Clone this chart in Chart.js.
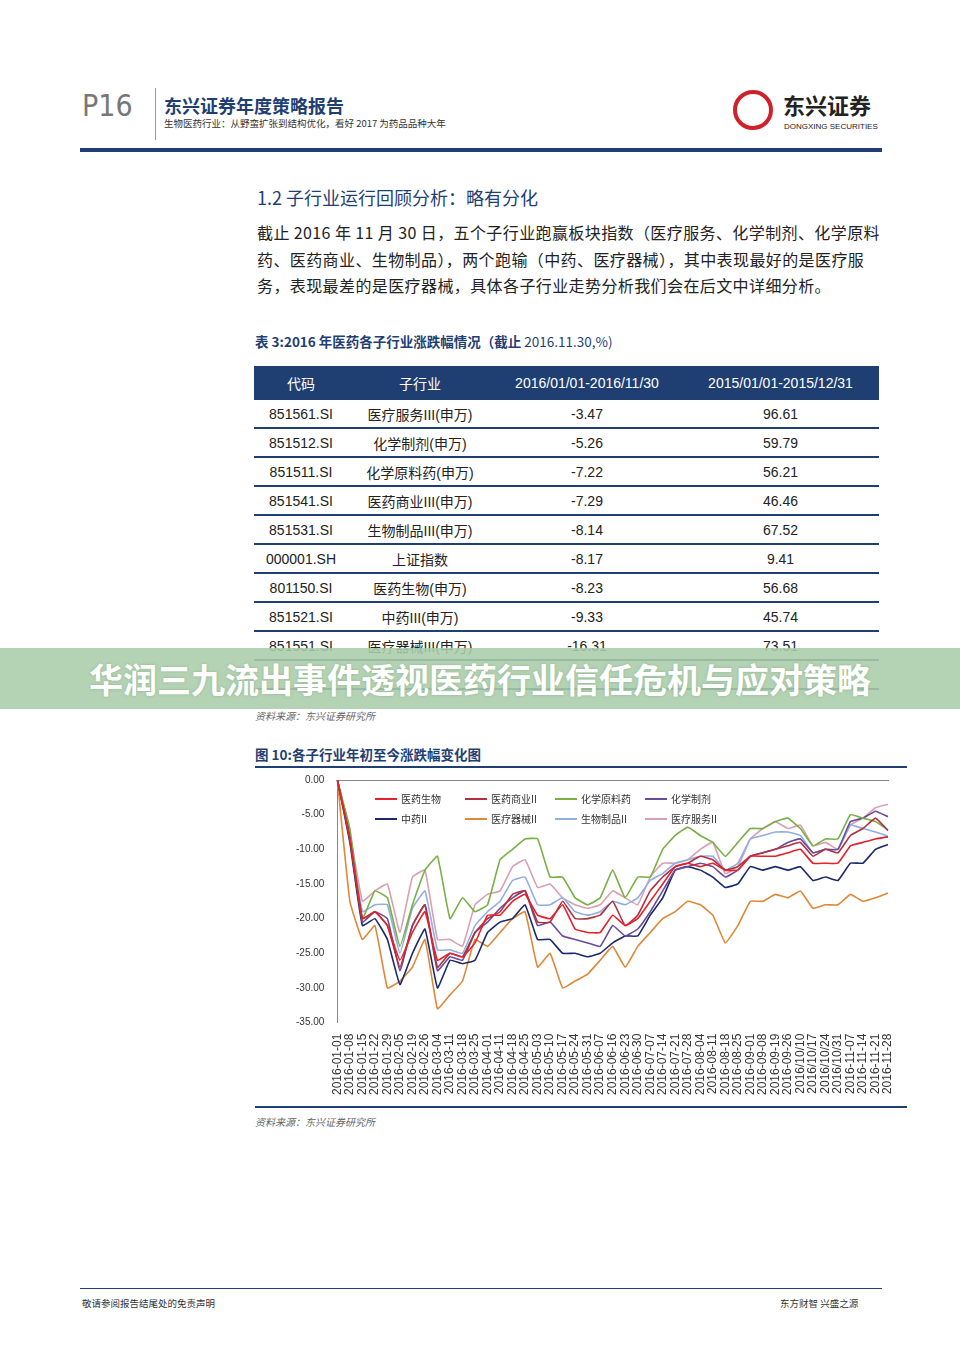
<!DOCTYPE html>
<html><head><meta charset="utf-8">
<script src="https://cdn.jsdelivr.net/npm/chart.js@4/dist/chart.umd.min.js"></script>
<style>
body{margin:0;width:960px;height:1357px;position:relative;background:#fff;font-family:"Noto Sans CJK SC","Noto Sans",sans-serif;color:#222;overflow:hidden}
.a{position:absolute}
table{border-collapse:collapse;font-family:Arial,"Liberation Sans","Noto Sans CJK SC";font-size:14px}
td,th{text-align:center;padding:0;height:27px;border-bottom:2px solid #1f3f73}
th{background:#1f3f73;color:#fff;font-weight:normal;height:34px;border:none}
.lg{font-size:10px;font-family:"Noto Sans CJK SC";color:#333;display:flex;align-items:center}
.lg i{display:inline-block;width:22px;height:2px;margin-right:4px}
</style></head><body>
<div class="a" style="left:82px;top:88px;font-size:30px;color:#777;font-family:'DejaVu Sans Condensed','DejaVu Sans'">P16</div>
<div class="a" style="left:155px;top:88px;width:1px;height:52px;background:#999"></div>
<div class="a" style="left:164px;top:92px;font-size:18px;font-weight:bold;color:#1f3f73">东兴证券年度策略报告</div>
<div class="a" style="left:164px;top:116px;font-size:9.5px;color:#333">生物医药行业：从野蛮扩张到结构优化，看好 2017 为药品品种大年</div>
<div class="a" style="left:733px;top:90px;width:40px;height:40px;border-radius:50%;border:4px solid #d0202a;box-sizing:border-box"></div>
<div class="a" style="left:783px;top:90px;font-size:22px;line-height:28px;font-weight:bold;color:#222">东兴证券</div>
<div class="a" style="left:784px;top:122px;font-size:8px;line-height:9px;font-family:Arial;color:#222">DONGXING SECURITIES</div>
<div class="a" style="left:80px;top:148px;width:802px;height:4px;background:#1f3f73"></div>
<div class="a" style="left:257px;top:184px;font-size:18px;color:#1f3f73">1.2 子行业运行回顾分析：略有分化</div>
<div class="a" style="left:257px;top:219px;width:630px;font-size:16px;letter-spacing:0.4px;line-height:26.5px;color:#222">截止 2016 年 11 月 30 日，五个子行业跑赢板块指数（医疗服务、化学制剂、化学原料药、医药商业、生物制品），两个跑输（中药、医疗器械），其中表现最好的是医疗服务，表现最差的是医疗器械，具体各子行业走势分析我们会在后文中详细分析。</div>
<div class="a" style="left:255px;top:331px;font-size:13.5px;color:#1f3f73"><b>表 3:2016 年医药各子行业涨跌幅情况（截止</b> 2016.11.30,%)</div>
<table class="a" style="left:254px;top:366px;width:625px">
<tr><th style="width:94px">代码</th><th style="width:144px">子行业</th><th style="width:190px">2016/01/01-2016/11/30</th><th>2015/01/01-2015/12/31</th></tr>
<tr><td>851561.SI</td><td>医疗服务III(申万)</td><td>-3.47</td><td>96.61</td></tr>
<tr><td>851512.SI</td><td>化学制剂(申万)</td><td>-5.26</td><td>59.79</td></tr>
<tr><td>851511.SI</td><td>化学原料药(申万)</td><td>-7.22</td><td>56.21</td></tr>
<tr><td>851541.SI</td><td>医药商业III(申万)</td><td>-7.29</td><td>46.46</td></tr>
<tr><td>851531.SI</td><td>生物制品III(申万)</td><td>-8.14</td><td>67.52</td></tr>
<tr><td>000001.SH</td><td>上证指数</td><td>-8.17</td><td>9.41</td></tr>
<tr><td>801150.SI</td><td>医药生物(申万)</td><td>-8.23</td><td>56.68</td></tr>
<tr><td>851521.SI</td><td>中药III(申万)</td><td>-9.33</td><td>45.74</td></tr>
<tr><td>851551.SI</td><td>医疗器械III(申万)</td><td>-16.31</td><td>73.51</td></tr>
<tr><td>&nbsp;</td><td></td><td></td><td></td></tr>
</table>
<div class="a" style="left:0;top:648px;width:960px;height:61px;background:rgba(170,205,170,0.88);color:#fff;font-size:34px;font-weight:bold;text-align:center;line-height:61px;text-shadow:0 0 3px rgba(120,160,120,.6)">华润三九流出事件透视医药行业信任危机与应对策略</div>
<div class="a" style="left:255px;top:710px;font-size:10px;line-height:12px;color:#666;font-style:italic">资料来源：东兴证券研究所</div>
<div class="a" style="left:255px;top:744px;font-size:13.5px;color:#1f3f73"><b>图 10:各子行业年初至今涨跌幅变化图</b></div>
<div class="a" style="left:255px;top:766px;width:652px;height:2px;background:#1f3f73"></div>
<div class="a" style="left:255px;top:768px;width:655px;height:330px"><canvas id="c"></canvas></div>
<div class="a" id="leg" style="left:375px;top:791px;width:360px;display:grid;grid-template-columns:repeat(4,90px);row-gap:5px"></div>
<div class="a" style="left:255px;top:1106px;width:652px;height:2px;background:#1f3f73"></div>
<div class="a" style="left:255px;top:1114px;font-size:10px;color:#666;font-style:italic">资料来源：东兴证券研究所</div>
<div class="a" style="left:80px;top:1288px;width:802px;height:1px;background:#1f3f73"></div>
<div class="a" style="left:82px;top:1296px;font-size:9.5px;color:#333">敬请参阅报告结尾处的免责声明</div>
<div class="a" style="left:780px;top:1296px;font-size:9.5px;color:#333">东方财智 兴盛之源</div>
<script>
const labels=["2016-01-01","2016-01-08","2016-01-15","2016-01-22","2016-01-29","2016-02-05","2016-02-19","2016-02-26","2016-03-04","2016-03-11","2016-03-18","2016-03-25","2016-04-01","2016-04-11","2016-04-18","2016-04-25","2016-05-03","2016-05-10","2016-05-17","2016-05-24","2016-05-31","2016-06-07","2016-06-16","2016-06-23","2016-06-30","2016-07-07","2016-07-14","2016-07-21","2016-07-28","2016-08-04","2016-08-11","2016-08-18","2016-08-25","2016-09-01","2016-09-08","2016-09-19","2016-09-26","2016/10/10","2016/10/17","2016/10/24","2016/10/31","2016-11-07","2016-11-14","2016-11-21","2016-11-28"];
const s_yysw=[0,-8.5,-20,-19,-21,-26,-22,-19,-26,-25,-25.5,-23.5,-19.5,-19.5,-17.5,-16.5,-19.5,-20,-18,-21.5,-22,-22,-19.5,-21,-20,-17.5,-15,-12.5,-12,-12.5,-12,-13,-13,-11,-11,-11,-10.5,-10,-12,-12,-12,-9.5,-9,-8.5,-8.2];
const s_yysy=[0,-8.5,-20,-19,-21,-27,-21,-18,-27,-25,-25.5,-22,-20,-19,-16.5,-16,-20.5,-20.5,-17.5,-20,-20,-19.5,-17.5,-21,-19.5,-16,-14,-12.5,-12,-11,-11.5,-13,-12.5,-11,-10.5,-10,-9.5,-9,-11,-10,-10.5,-8,-7,-5.5,-7.3];
const s_hxyly=[0,-7,-20,-16,-17,-24,-18,-13,-11,-20,-17,-19,-18,-11.5,-10,-8.5,-8.5,-14,-14,-17,-18,-17,-13,-17,-14,-14,-10,-8,-6.8,-8,-9,-11,-9,-7,-7,-6,-5.5,-7,-9.5,-8.5,-8.5,-5,-5.5,-6,-7.2];
const s_hxzj=[0,-8,-20.5,-19,-20,-27.5,-21,-18,-27.5,-25.5,-26,-22,-20.5,-18.5,-17,-16,-21,-20.5,-22.5,-23,-23.5,-24,-21,-22.5,-21.5,-19,-16,-13,-12.5,-12,-12.5,-14,-13,-11,-10.5,-10,-9,-8.5,-10.5,-10,-10,-6,-5.5,-4.5,-5.3];
const s_zy=[0,-9,-21,-20,-23,-29.5,-25,-21.5,-30,-26,-26.5,-26,-22,-20.5,-20,-18,-23,-23,-25,-25,-25.5,-25,-23.5,-22.5,-22.5,-19.5,-17,-13,-12.5,-13,-14,-15.5,-15,-12.5,-13,-12.5,-13,-12.5,-14.5,-14,-14.5,-12,-12,-10,-9.3];
const s_ylqx=[0,-17.5,-23,-21,-30,-29,-27,-23,-33,-31,-29,-23,-24,-22,-20,-19,-27,-25,-30,-29,-28,-26,-24,-27,-24,-22,-20,-19,-17.5,-18,-19.5,-23.5,-21,-17.5,-17.5,-16.5,-17,-16,-18.5,-18,-18,-16.5,-17.5,-17,-16.3];
const s_swzp=[0,-8,-19,-18,-18,-25,-18.5,-16,-24.5,-24.5,-25,-21,-19,-17.5,-14.5,-14,-18,-18,-17,-19,-19.5,-19,-17.5,-18,-17,-14.5,-13.5,-12,-11.5,-11,-11,-13,-12,-8.5,-8,-7.5,-7.5,-8,-10.5,-10,-10,-6.5,-7,-7.5,-8.1];
const s_ylfw=[0,-7.5,-17.5,-16,-15,-22,-14,-13,-23,-23,-24,-18,-16.5,-16,-12.5,-11.5,-15.5,-15,-17,-18,-18.5,-18,-16,-17,-18,-14,-12,-12,-11.5,-10,-9,-13.5,-12.5,-8.5,-7,-6,-7,-6.5,-9.5,-9,-10,-6.5,-5.5,-4,-3.5];
const names=["医药生物","医药商业II","化学原料药","化学制剂","中药II","医疗器械II","生物制品II","医疗服务II"];
const colors=["#e8202a","#b03040","#77b043","#6a4a9a","#1a2a6a","#e0883a","#90aee0","#d8a0b0"];
const series=[s_yysw,s_yysy,s_hxyly,s_hxzj,s_zy,s_ylqx,s_swzp,s_ylfw];
const yTicks=[0,-5,-10,-15,-20,-25,-30,-35];
const leg=document.getElementById('leg');
names.forEach((n,i)=>{leg.innerHTML+=`<div class="lg"><i style="background:${colors[i]}"></i>${n}</div>`});
new Chart(document.getElementById('c'),{type:'line',
data:{labels:labels,datasets:series.map((d,i)=>({label:names[i],data:d,borderColor:colors[i],borderWidth:1.6,pointRadius:0,tension:0.1}))},
options:{responsive:true,maintainAspectRatio:false,animation:false,
plugins:{legend:{display:false},tooltip:{enabled:false}},
layout:{padding:{left:36,right:22,top:4,bottom:0}},
scales:{y:{min:-35,max:0,afterBuildTicks:a=>{a.ticks=yTicks.map(v=>({value:v}))},
ticks:{callback:v=>v.toFixed(2),font:{size:10,family:'Arial'},color:'#333',padding:5},
grid:{display:false},border:{color:'#888'}},
x:{position:'top',offset:false,grid:{display:false},border:{color:'#888'},ticks:{display:false}},
x2:{type:'category',labels:labels,offset:false,position:'bottom',grid:{display:false},border:{display:false},
ticks:{minRotation:90,maxRotation:90,autoSkip:false,font:{size:12,family:'Arial'},color:'#333'}}}}});
</script></body></html>
